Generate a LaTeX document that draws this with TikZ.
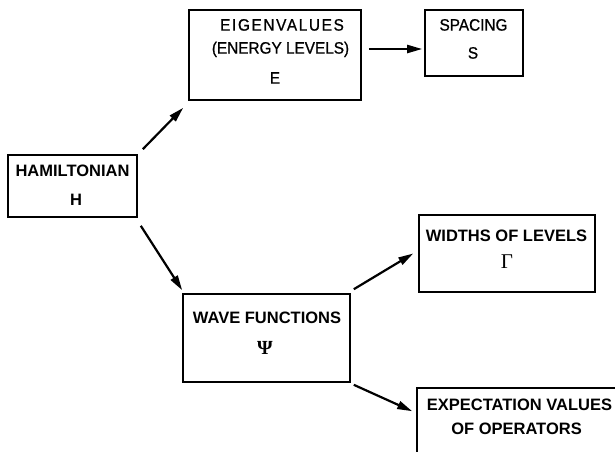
\documentclass[tikz,border=0pt]{standalone}
\usepackage{fontspec}
\setmainfont{Liberation Sans}
\newfontfamily\regfont[FakeStretch=0.93,FakeBold=0.8]{Liberation Sans}
\newfontfamily\grkfont{Liberation Serif}
\usetikzlibrary{arrows.meta,calc}
\begin{document}
\begin{tikzpicture}[x=1pt,y=-1pt,
  box/.style={draw, line width=1.6pt, inner sep=0pt},
  lbl/.style={inner sep=0pt, text height=0.72em, text depth=0pt, font=\fontsize{16.5}{16.5}\regfont},
  blbl/.style={inner sep=0pt, text height=0.72em, text depth=0pt, font=\fontsize{16.5}{16.5}\selectfont\bfseries},
  glbl/.style={inner sep=0pt, text height=0.66em, text depth=0pt, font=\fontsize{21}{21}\grkfont},
  arr/.style={line width=2.2pt, -{Triangle[length=15pt,width=8pt]}}]
\useasboundingbox (0,0) rectangle (615,451);
% boxes
\node[box, minimum width=129pt, minimum height=62pt] (H) at (72.5,186) {};
\node[box, minimum width=172pt, minimum height=90pt] (E) at (275,55) {};
\node[box, minimum width=98pt, minimum height=66pt] (S) at (474,43) {};
\node[box, minimum width=176pt, minimum height=77pt] (Wd) at (507,253.5) {};
\node[box, minimum width=167pt, minimum height=88pt] (W) at (266.5,338) {};
\begin{scope}
\clip (0,0) rectangle (615,451);
\node[box, minimum width=220pt, minimum height=100pt] (X) at (527,438) {};
\end{scope}
% labels
\node[blbl] (hl1) at (72.5,173) {HAMILTONIAN};
\node[blbl] (hl2) at (76,202) {H};
\node[lbl] (el1) at (282,27) {\addfontfeature{LetterSpace=10}EIGENVALUES};
\node[lbl] (el2) at (280.5,50) {(ENERGY LEVELS)};
\node[lbl] (el3) at (275,80) {E};
\node[lbl] (sl1) at (473.5,27) {SPACING};
\node[lbl] (sl2) at (473,55) {S};
\node[blbl] (wl1) at (506.5,238) {WIDTHS OF LEVELS};
\node[glbl] (wl2) at (507,265) {Γ};
\node[blbl] (vl1) at (267,320) {WAVE FUNCTIONS};
\node[glbl, font=\fontsize{20}{20}\grkfont\bfseries] (vl2) at (265,351.5) {Ψ};
\node[blbl] (xl1) at (519.5,407) {EXPECTATION VALUES};
\node[blbl] (xl2) at (516.5,431) {OF OPERATORS};
% arrows
\draw[arr] ($(H.north east)+(5,-5)$) -- ($(E.south west)+(-5,7)$);
\draw[arr] ($(E.east)+(7,-6)$) -- ($(S.west)+(-2,6)$);
\draw[arr] ($(H.south east)+(3,8)$) -- ($(W.north west)+(0,-3)$);
\draw[arr] ($(W.north east)+(3,-4)$) -- ($(Wd.west)+(-5,0)$);
\draw[arr] ($(W.south east)+(3,2)$) -- ($(X.north west)+(-4,24)$);
\end{tikzpicture}
\end{document}
